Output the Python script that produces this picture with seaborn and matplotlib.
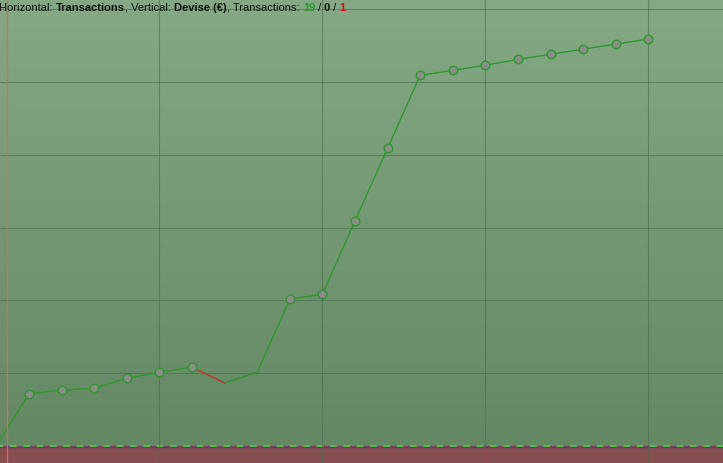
import numpy as np
import pandas as pd
import seaborn as sns
from matplotlib import pyplot as plt

# equity curve, one value per transaction (grid step = 100)
trade_no = list(range(21))
equity = [0, 72, 76.5, 79.3, 93, 101.2, 108.1, 86.5, 101.2, 201.5, 208.4,
          309, 409, 509, 516, 523, 531, 538, 545, 552, 559]
has_marker = [False, True, True, True, True, True, True, False, False, True, True,
              True, True, True, True, True, True, True, True, True, True]
losing_trade = [7]
cursor_x = 0.34

title_parts = [("Horizontal: ", "normal", "#111111"), ("Transactions", "bold", "#111111"),
               (", Vertical: ", "normal", "#111111"), ("Devise (€)", "bold", "#111111"),
               (", Transactions: ", "normal", "#111111"), ("19", "bold", "#2a9a2a"),
               (" / ", "normal", "#111111"), ("0", "bold", "#111111"),
               (" / ", "normal", "#111111"), ("1", "bold", "#d01010")]

df = pd.DataFrame({'trade': trade_no, 'equity': equity, 'marker': has_marker})

sns.set_style('white')
plt.rcParams['font.family'] = ['Liberation Sans', 'DejaVu Sans']

fig = plt.figure(figsize=(7.23, 4.63), dpi=100)
ax = fig.add_axes([0, 0, 1, 1])
x_lo, x_hi = 0.11, 22.29
y_lo, y_hi = -23.4, 612.6

# green gradient background, red band below zero
grad = np.linspace(0, 1, 256).reshape(-1, 1)
top = np.array([132, 169, 132]) / 255
bot = np.array([100, 136, 100]) / 255
img = top + (bot - top) * grad[:, :, None]
ax.imshow(img, extent=[x_lo, x_hi, 0, y_hi], aspect='auto', zorder=0)
ax.axhspan(y_lo, 0, color='#864e4e', zorder=0.5)

ax.set_xticks([5, 10, 15, 20])
ax.set_yticks([100, 200, 300, 400, 500, 600])
ax.grid(True, color='#4a6a4a', linewidth=0.8, alpha=0.6, zorder=1)
ax.set_axisbelow(False)
for sp in ax.spines.values():
    sp.set_visible(False)
ax.tick_params(length=0, labelbottom=False, labelleft=False)

# zero line: blue/red below, green dashes on top
ax.axhline(-2.0, color='#3a3ad0', linewidth=1, zorder=2)
ax.axhline(-2.0, color='#c02020', linewidth=1, linestyle=(0, (4, 4)), zorder=2.1)
ax.axhline(0, color='#48d848', linewidth=1.2, linestyle=(2, (4, 4)), zorder=2.2)
ax.axvline(cursor_x, color='#ff5a5a', linewidth=0.9, zorder=5)

sns.lineplot(data=df, x='trade', y='equity', color='#2a9a2a', linewidth=1.0, ax=ax, zorder=3)
for k in losing_trade:
    sns.lineplot(data=df.iloc[k - 1:k + 1], x='trade', y='equity', color='#d03030',
                 linewidth=1.0, ax=ax, zorder=3.1)
sns.scatterplot(data=df[df['marker']], x='trade', y='equity', s=38, color='#8c8c8c',
                edgecolor='#2a9a2a', linewidth=1.0, ax=ax, zorder=4)

ax.set_xlim(x_lo, x_hi)
ax.set_ylim(y_lo, y_hi)
ax.set_xlabel('')
ax.set_ylabel('')

# title drawn piece by piece
renderer = fig.canvas.get_renderer()
x_px = -1
for txt, weight, col in title_parts:
    t = fig.text(round(x_px) / 723, 1 - 11 / 463, txt, fontsize=8, fontweight=weight,
                 color=col, ha='left', va='baseline')
    x_px = t.get_window_extent(renderer).x1

fig.savefig('out.png', dpi=100)
